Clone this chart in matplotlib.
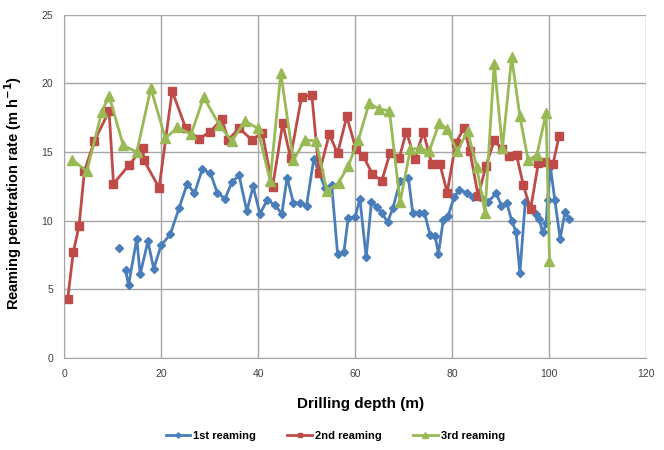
import numpy as np
import matplotlib
matplotlib.use("Agg")
import matplotlib.pyplot as plt

plt.rcParams["font.family"] = ["Liberation Sans", "DejaVu Sans"]

# 1st reaming (blue diamonds) - first point is not joined to the rest
depth_1 = [11.3, np.nan, 12.7, 13.3, 15.0, 15.7, 17.3, 18.5, 20.0, 21.9, 23.7, 25.4, 26.9,
           28.5, 30.2, 31.6, 33.2, 34.6, 36.1, 37.7, 39.0, 40.4, 41.9, 43.5, 44.9,
           46.0, 47.3, 48.7, 50.0, 51.5, 53.8, 55.2, 56.4, 57.7, 58.6, 60.0, 61.0,
           62.3, 63.4, 64.5, 65.5, 66.7, 67.8, 69.3, 71.0, 71.9, 73.1, 74.3, 75.5,
           76.5, 77.2, 78.2, 79.2, 80.4, 81.5, 83.0, 84.4, 85.7, 87.5, 89.1, 90.2,
           91.3, 92.3, 93.2, 94.0, 95.1, 96.2, 97.3, 98.0, 98.7, 99.4, 99.7, 100.3,
           101.2, 102.3, 103.3, 104.2]
rate_1 = [8.0, np.nan, 6.4, 5.3, 8.7, 6.1, 8.5, 6.5, 8.2, 9.0, 10.9, 12.7, 12.0,
          13.75, 13.45, 12.05, 11.6, 12.8, 13.3, 10.7, 12.5, 10.5, 11.5, 11.15, 10.5,
          13.15, 11.3, 11.3, 11.1, 14.5, 12.4, 12.6, 7.6, 7.7, 10.2, 10.25, 11.6,
          7.35, 11.4, 11.0, 10.6, 9.9, 10.9, 12.9, 13.15, 10.6, 10.6, 10.6, 8.95,
          8.9, 7.6, 10.05, 10.35, 11.7, 12.25, 12.05, 11.7, 11.7, 11.4, 12.0, 11.1,
          11.3, 10.0, 9.2, 6.2, 11.4, 10.9, 10.5, 10.1, 9.15, 9.8, 11.5, 13.9,
          11.5, 8.7, 10.65, 10.1]

# 2nd reaming (red squares)
depth_2 = [0.76, 1.9, 3.1, 4.2, 6.25, 9.3, 10.2, 13.4, 16.2, 16.5, 19.6, 22.3, 25.1,
           27.8, 30.2, 32.5, 33.9, 36.1, 38.7, 40.9, 43.0, 45.1, 46.7, 49.0, 51.1,
           52.6, 54.7, 56.4, 58.3, 60.2, 61.7, 63.6, 65.5, 67.2, 69.1, 70.6, 72.3,
           74.1, 75.8, 77.5, 79.0, 80.8, 82.5, 83.7, 85.4, 87.0, 88.7, 90.4, 91.8,
           93.3, 94.7, 96.2, 97.8, 99.2, 100.8, 102.1]
rate_2 = [4.3, 7.7, 9.6, 13.6, 15.8, 18.0, 12.7, 14.05, 15.3, 14.4, 12.4, 19.45, 16.75,
          15.95, 16.5, 17.4, 15.9, 16.75, 15.9, 16.4, 12.45, 17.1, 14.6, 19.05, 19.15,
          13.45, 16.3, 14.9, 17.6, 15.2, 14.7, 13.4, 12.9, 14.9, 14.55, 16.5, 14.5,
          16.45, 14.15, 14.15, 12.05, 15.7, 16.75, 15.05, 11.8, 14.0, 15.85, 15.2, 14.7,
          14.8, 12.6, 10.85, 14.2, 14.3, 14.1, 16.2]

# 3rd reaming (green triangles)
depth_3 = [1.7, 4.7, 7.8, 9.3, 12.2, 15.0, 17.9, 20.9, 23.4, 26.2, 28.8, 32.0, 34.6,
           37.3, 39.9, 42.5, 44.7, 47.3, 49.7, 52.0, 54.2, 56.6, 58.6, 60.7, 62.9,
           65.0, 67.1, 69.3, 71.4, 73.4, 75.3, 77.4, 79.0, 81.1, 83.2, 85.1, 86.8,
           88.7, 90.4, 92.3, 94.0, 95.7, 97.5, 99.4, 100.1]
rate_3 = [14.45, 13.6, 17.95, 19.1, 15.5, 15.0, 19.65, 16.0, 16.8, 16.3, 19.0, 17.0, 15.8,
          17.25, 16.75, 12.9, 20.75, 14.4, 15.9, 15.8, 12.15, 12.75, 14.0, 15.9, 18.55,
          18.15, 18.0, 11.35, 15.2, 15.3, 15.05, 17.15, 16.65, 15.05, 16.55, 13.9, 10.6,
          21.45, 15.3, 21.9, 17.6, 14.4, 14.8, 17.85, 7.1]

fig = plt.figure(figsize=(6.64, 4.5), dpi=100)
ax = fig.add_axes([0.0964, 0.2044, 0.8765, 0.7626])

ax.plot(depth_1, rate_1, color="#4A7EBB", lw=2.0, marker="D", ms=4.5,
        label="1st reaming")
ax.plot(depth_2, rate_2, color="#BE4B48", lw=2.0, marker="s", ms=5.5,
        label="2nd reaming")
ax.plot(depth_3, rate_3, color="#98B954", lw=2.0, marker="^", ms=6.5,
        label="3rd reaming")

ax.set_xlim(0, 120)
ax.set_ylim(0, 25)
ax.set_xticks(range(0, 121, 20))
ax.set_yticks(range(0, 26, 5))
ax.grid(True, color="#a6a6a6", lw=1)
ax.set_axisbelow(True)
for side in ["top", "right"]:
    ax.spines[side].set_visible(False)
for side in ["left", "bottom"]:
    ax.spines[side].set_color("#a6a6a6")
ax.tick_params(length=0, labelsize=7.5, colors="#404040", pad=8)

ax.set_xlabel("Drilling depth (m)", fontsize=11, fontweight="bold")
ax.set_ylabel("Reaming penetration rate (m h$^{\\mathbf{-1}}$)", fontsize=10.5,
              fontweight="bold")
ax.xaxis.set_label_coords(0.51, -0.115)
ax.yaxis.set_label_coords(-0.068, 0.48)

fig.legend(loc="lower center", bbox_to_anchor=(0.505, -0.003), ncol=3, frameon=False,
           prop={"weight": "bold", "size": 8}, handlelength=2.2, handletextpad=0.3,
           columnspacing=2.8, markerscale=0.6)

fig.savefig("out.png", dpi=100)
